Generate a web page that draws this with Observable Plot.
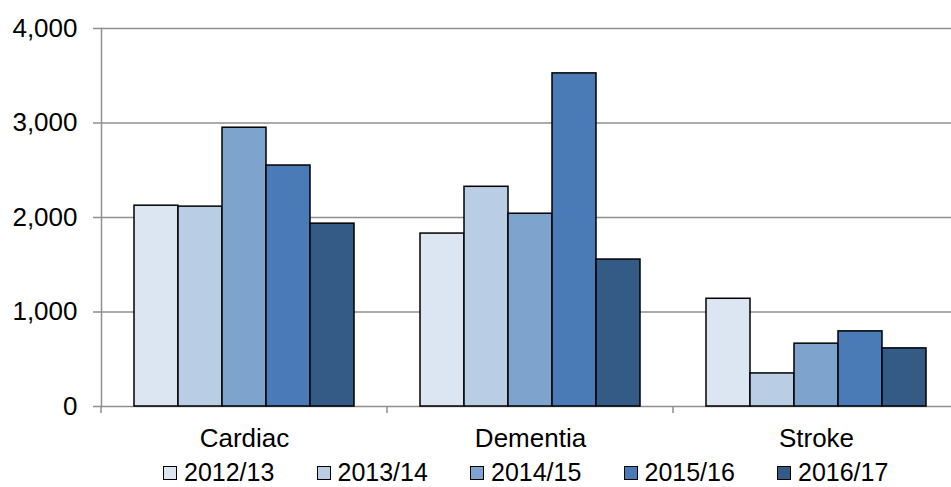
<!DOCTYPE html>
<html><head><meta charset="utf-8">
<script src="https://cdn.jsdelivr.net/npm/d3@7"></script>
<script src="https://cdn.jsdelivr.net/npm/@observablehq/plot@0.6"></script>
<style>
html,body{margin:0;padding:0;overflow:hidden;background:#fff;width:951px;height:487px;font-family:"Liberation Sans",Arial,sans-serif}
#chart svg{max-width:none !important;height:458px !important;width:951px !important;display:block}
#legend{position:absolute;left:163px;top:462px;display:flex;font-size:25px;line-height:20px;color:#000}
#legend .item{display:flex;align-items:center;width:153.5px;white-space:nowrap}
#legend .sw{width:12px;height:12px;border:1.5px solid #000;margin-right:7px;margin-top:2px}
</style></head><body><div id="chart"></div><div id="legend"></div><script>
const categories = ["Cardiac", "Dementia", "Stroke"];
const years = ["2012/13", "2013/14", "2014/15", "2015/16", "2016/17"];
const series2012 = [2125, 1830, 1140];
const series2013 = [2115, 2325, 350];
const series2014 = [2950, 2040, 665];
const series2015 = [2550, 3525, 795];
const series2016 = [1935, 1555, 615];
const yTicks = [0, 1000, 2000, 3000, 4000];
const colors = ["#dce6f2", "#b9cde5", "#7ea3cd", "#4a7bb7", "#345a86"];

const allSeries = [series2012, series2013, series2014, series2015, series2016];
const data = [];
categories.forEach((c, i) => years.forEach((y, j) => data.push({category: c, year: y, value: allSeries[j][i]})));

const gridColor = "#8f8f8f";

function boundaryTicks(index, scales, values, dims) {
  const y0 = dims.height - dims.marginBottom;
  return d3.create("svg:line")
    .attr("x1", dims.marginLeft).attr("x2", dims.marginLeft)
    .attr("y1", y0).attr("y2", y0 + 7)
    .attr("stroke", gridColor).attr("stroke-width", 1.5).node();
}

const chart = Plot.plot({
  width: 951,
  height: 458,
  marginLeft: 101,
  marginRight: -8,
  marginTop: 28,
  marginBottom: 52,
  style: {fontFamily: '"Liberation Sans", Arial, sans-serif', fontSize: "26px", color: "#000", background: "#fff", overflow: "visible", maxWidth: "none"},
  fx: {domain: categories, padding: 0, label: null},
  x: {domain: years, paddingInner: 0, paddingOuter: 0.735, axis: null},
  y: {domain: [0, 4000], label: null},
  color: {domain: years, range: colors},
  marks: [
    Plot.gridY(yTicks, {stroke: gridColor, strokeOpacity: 1, strokeWidth: 1.5}),
    Plot.frame({anchor: "left", facetAnchor: "left", stroke: gridColor, strokeWidth: 1.5}),
    boundaryTicks,
    Plot.axisY({ticks: yTicks, tickFormat: d3.format(","), tickSize: 8, tickPadding: 16, stroke: gridColor, strokeWidth: 1.5, fontSize: 26, label: null}),
    Plot.barY(data, {fx: "category", x: "year", y: "value", fill: "year", stroke: "#000", strokeWidth: 1.5}),
    Plot.axisFx({anchor: "bottom", tickSize: 0, tickPadding: 22, fontSize: 26, label: null})
  ]
});
document.getElementById("chart").appendChild(chart);

const legend = document.getElementById("legend");
years.forEach((y, i) => {
  const it = document.createElement("div");
  it.className = "item";
  it.innerHTML = `<span class="sw" style="background:${colors[i]}"></span><span>${y}</span>`;
  legend.appendChild(it);
});
</script></body></html>
